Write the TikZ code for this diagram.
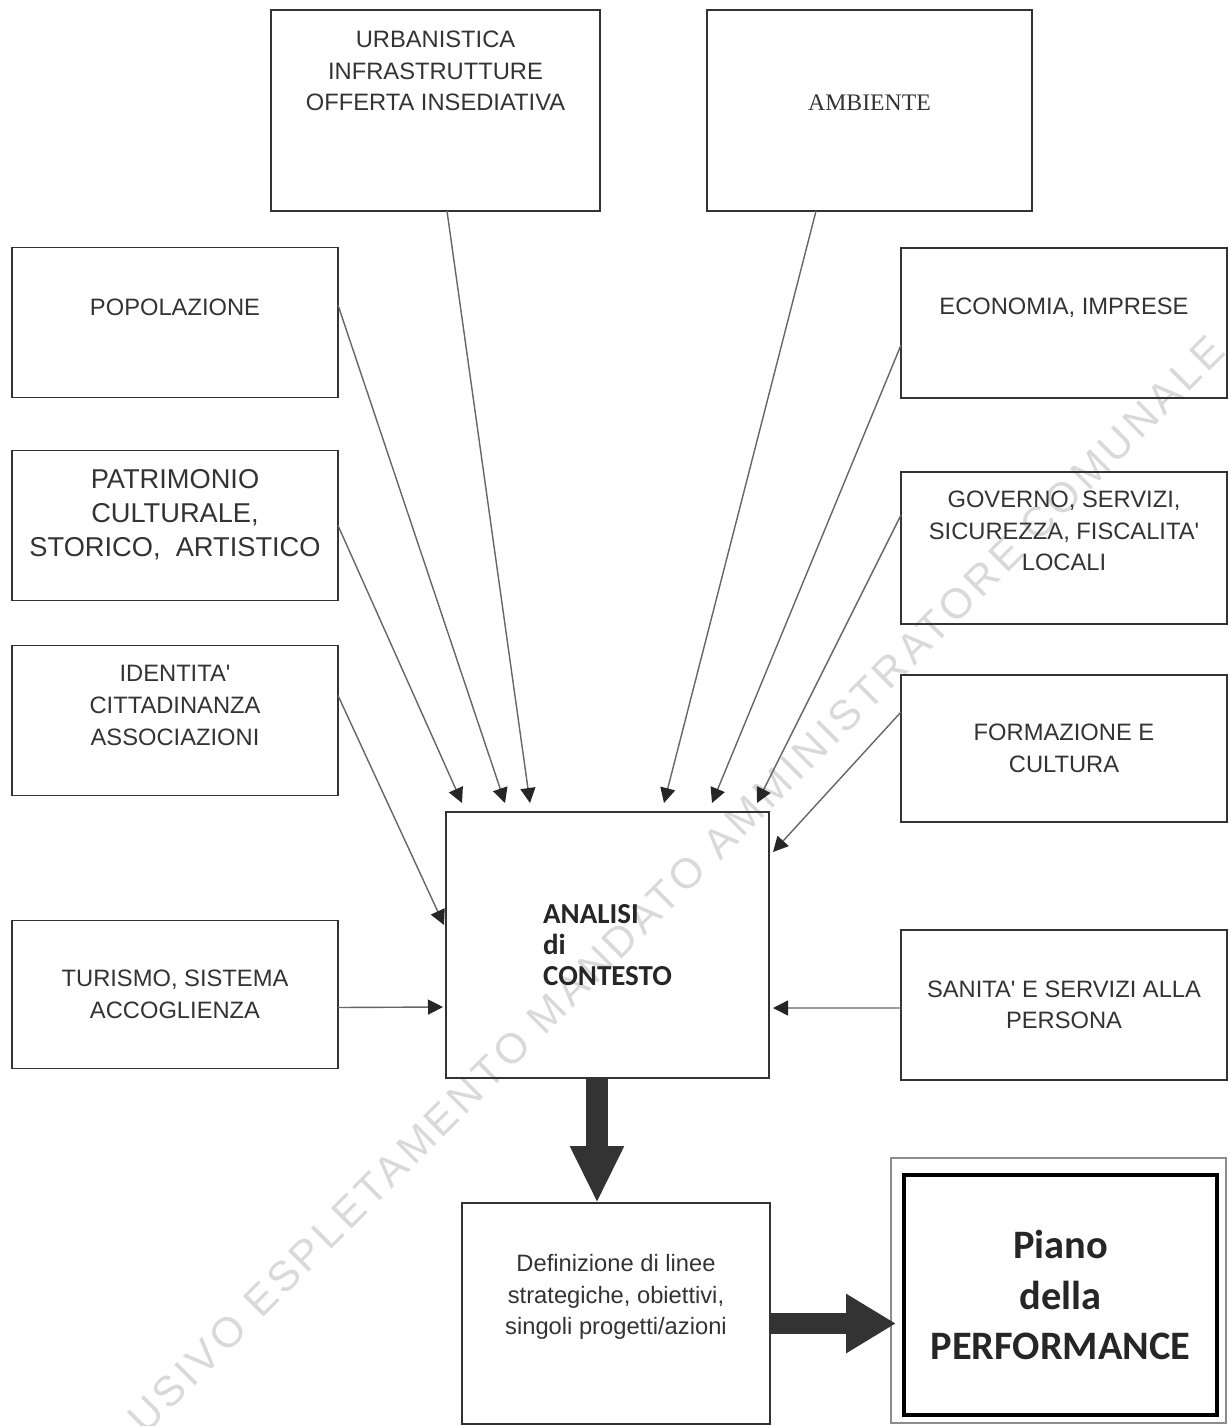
\documentclass[tikz,border=0pt]{standalone}
\usepackage{fontspec}
\setmainfont{Liberation Sans}
\newfontfamily\ambfont{Liberation Serif}
\newfontfamily\calfont{Carlito}
\newfontfamily\wmfont[LetterSpace=10]{Liberation Sans}
\usetikzlibrary{arrows.meta, positioning}

\begin{document}
\begin{tikzpicture}[
    node distance=1cm,
    box/.style={rectangle, draw=black!80, line width=1.1pt, minimum width=6.52cm, minimum height=3cm, inner sep=0pt, outer sep=0pt},
    lbl/.style={align=center, text=black!80, font=\fontsize{13.5}{18}\selectfont},
    arr/.style={-{Triangle[length=3mm, width=3mm, color=black!85]}, draw=black!60, line width=0.8pt},
    bigarr/.style={-{Triangle[length=1.14cm, width=1cm]}, draw=black!80, line width=12pt},
]
    \useasboundingbox (0,0) rectangle (24.58,-28.52);
    % watermark
    \begin{scope}
        \clip (0,0) rectangle (24.58,-28.52);
        \node[anchor=base west, rotate=45, inner sep=0pt, text=black!15, font=\wmfont\fontsize{24}{24}\selectfont] (wm) at (2.9,-28.72) {\llap{ESCL}USIVO ESPLETAMENTO MANDATO AMMINISTRATORE COMUNALE};
    \end{scope}

    % boxes
    \node[box, minimum width=6.58cm, minimum height=4.02cm] (urb) at (8.71,-2.21) {};
    \node[box, minimum width=6.5cm, minimum height=4.02cm] (amb) at (17.39,-2.21) {};
    \node[box] (pop) at (3.5,-6.45) {};
    \node[box, below=1.06cm of pop] (pat) {};
    \node[box, below=0.9cm of pat] (ide) {};
    \node[box, minimum height=2.96cm, below=2.5cm of ide] (tur) {};
    \node[box] (eco) at (21.28,-6.46) {};
    \node[box, minimum height=3.04cm, below=1.48cm of eco] (gov) {};
    \node[box, minimum height=2.94cm, below=1.02cm of gov] (frm) {};
    \node[box, below=2.16cm of frm] (san) {};
    \node[box, minimum width=6.46cm, minimum height=5.32cm] (ana) at (12.15,-18.9) {};
    \node[box, minimum width=6.16cm, minimum height=4.42cm] (def) at (12.32,-26.27) {};
    \node[box, draw=black!45, line width=0.8pt, minimum width=6.7cm, minimum height=5.3cm] (pianoout) at (21.17,-25.81) {};
    \node[box, draw=black, line width=1.8pt, minimum width=6.26cm, minimum height=4.8cm, align=center, text=black!85, font=\calfont\bfseries\fontsize{23}{28.5}\selectfont] (piano) at (21.21,-25.9) {Piano\\della\\PERFORMANCE};

    % labels
    \node[lbl] (urbtxt) at ([yshift=0.79cm]urb.center) {URBANISTICA\\INFRASTRUTTURE\\OFFERTA INSEDIATIVA};
    \node[lbl, font=\ambfont\fontsize{13.5}{18}\selectfont] (ambtxt) at ([yshift=0.15cm]amb.center) {AMBIENTE};
    \node[lbl] (poptxt) at ([yshift=0.31cm]pop.center) {POPOLAZIONE};
    \node[lbl, font=\fontsize{15.5}{19.5}\selectfont] (pattxt) at ([yshift=0.22cm]pat.center) {PATRIMONIO\\CULTURALE,\\STORICO,\ \ ARTISTICO};
    \node[lbl] (idetxt) at ([yshift=0.3cm]ide.center) {IDENTITA\textquotesingle\\CITTADINANZA\\ASSOCIAZIONI};
    \node[lbl] (turtxt) at (tur.center) {TURISMO, SISTEMA\\ACCOGLIENZA};
    \node[lbl] (ecotxt) at ([yshift=0.3cm]eco.center) {ECONOMIA, IMPRESE};
    \node[lbl] (govtxt) at ([yshift=0.34cm]gov.center) {GOVERNO, SERVIZI,\\SICUREZZA, FISCALITA\textquotesingle\\LOCALI};
    \node[lbl] (frmtxt) at (frm.center) {FORMAZIONE E\\CULTURA};
    \node[lbl] (santxt) at (san.center) {SANITA\textquotesingle{} E SERVIZI ALLA\\PERSONA};
    \node[align=left, text=black!85, font=\calfont\bfseries\fontsize{16.5}{17.5}\selectfont] (anatxt) at (ana.center) {ANALISI\\di\\CONTESTO};
    \node[lbl] (deftxt) at ([yshift=0.33cm]def.center) {Definizione di linee\\strategiche, obiettivi,\\singoli progetti/azioni};

    % connectors
    \draw[arr] ([xshift=0.23cm]urb.south) -- ([xshift=-1.55cm, yshift=0.18cm]ana.north);
    \draw[arr] ([yshift=0.35cm]pop.east) -- ([xshift=-2.05cm, yshift=0.18cm]ana.north);
    \draw[arr] (pat.east) -- ([xshift=-2.91cm, yshift=0.18cm]ana.north);
    \draw[arr] ([yshift=0.5cm]ide.east) -- ([xshift=-0.04cm, yshift=-2.26cm]ana.north west);
    \draw[arr] ([yshift=-0.26cm]tur.east) -- ([xshift=-0.06cm, yshift=-1.24cm]ana.west);
    \draw[arr] ([xshift=-1.07cm]amb.south) -- ([xshift=1.13cm, yshift=0.18cm]ana.north);
    \draw[arr] ([yshift=-0.44cm]eco.west) -- ([xshift=2.09cm, yshift=0.18cm]ana.north);
    \draw[arr] ([yshift=0.66cm]gov.west) -- ([xshift=2.99cm, yshift=0.18cm]ana.north);
    \draw[arr] ([yshift=0.73cm]frm.west) -- ([xshift=0.08cm, yshift=-0.8cm]ana.north east);
    \draw[arr] ([yshift=-0.06cm]san.west) -- ([xshift=0.08cm, yshift=-1.26cm]ana.east);
    \draw[bigarr] ([xshift=-0.21cm]ana.south) -- ([xshift=-0.21cm]ana.south |- def.north);
    \draw[bigarr, -{Triangle[length=1cm, width=1.12cm]}, line width=11.4pt] ([yshift=-0.2cm]def.east) -- ([xshift=0.1cm, yshift=-0.2cm]def.east -| pianoout.west);
\end{tikzpicture}
\end{document}
